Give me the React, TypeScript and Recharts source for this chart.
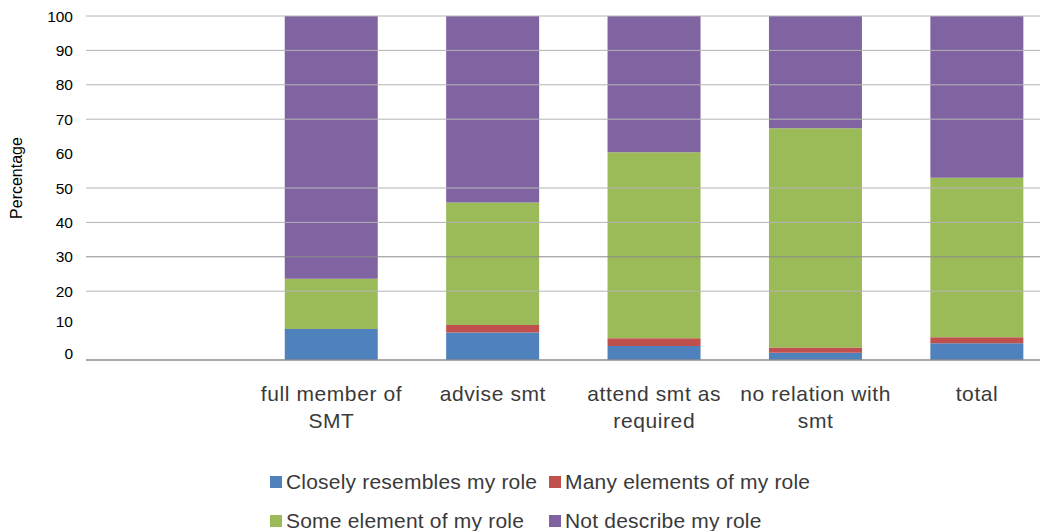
import React from 'react';
import { BarChart, Bar, XAxis, YAxis, ReferenceLine, Label } from 'recharts';

const categories = ['full member of SMT', 'advise smt', 'attend smt as required', 'no relation with smt', 'total'];
const closely = [9, 8, 4.1, 2.1, 4.9];
const many = [0, 2.2, 2.2, 1.5, 1.7];
const some = [14.6, 35.6, 54.1, 63.8, 46.4];
const notDescribe = [76.4, 54.2, 39.6, 32.6, 47];
const yTicks = [0, 10, 20, 30, 40, 50, 60, 70, 80, 90, 100];
const gridValues = [20, 30, 40, 50, 70, 80, 90, 100];

const series = [
  { key: 'closely', name: 'Closely resembles my role', color: '#4F81BD', values: closely },
  { key: 'many', name: 'Many elements of my role', color: '#C0504D', values: many },
  { key: 'some', name: 'Some element of my role', color: '#9BBB59', values: some },
  { key: 'notDescribe', name: 'Not describe my role', color: '#8064A2', values: notDescribe },
];

const data = categories.map((c, i) => {
  const row: Record<string, any> = { category: c };
  series.forEach((s) => { row[s.key] = s.values[i]; });
  return row;
});

const FONT = '"Liberation Sans", Arial, sans-serif';

function wrap(label: string, maxChars: number): string[] {
  const words = label.split(' ');
  const lines: string[] = [];
  let cur = '';
  words.forEach((w) => {
    const next = cur ? cur + ' ' + w : w;
    if (next.length > maxChars && cur) {
      lines.push(cur);
      cur = w;
    } else {
      cur = next;
    }
  });
  if (cur) lines.push(cur);
  return lines;
}

const XTick = (props: any) => {
  const { x, y, payload } = props;
  const lines = wrap(String(payload.value), 16);
  return (
    <g>
      {lines.map((l, i) => (
        <text key={i} x={x} y={y + 41 + i * 27} textAnchor="middle" fontFamily={FONT} fontSize={21} letterSpacing={0.6} fill="#3a3a3a">
          {l}
        </text>
      ))}
    </g>
  );
};

const YTick = (props: any) => {
  const { x, y, payload } = props;
  const v = Number(payload.value);
  const shift = v === 0 ? -7 : v === 10 ? -4 : 0;
  return (
    <text x={x} y={y + shift} dy="0.355em" textAnchor="end" fontFamily={FONT} fontSize={15.5} fill="#000">
      {payload.value}
    </text>
  );
};

export default function App() {
  return (
    <div style={{ position: 'absolute', left: 0, top: 0, width: 1047, height: 531, background: '#fff' }}>
      <BarChart width={1047} height={531} data={data} margin={{ top: 16, right: 7, left: 0, bottom: 0 }}>
        {gridValues.map((v) => (
          <ReferenceLine key={v} y={v} stroke={v === 30 ? '#8a8a8a' : '#b4b4b4'} strokeWidth={1} />
        ))}
        <XAxis
          dataKey="category"
          height={171}
          padding={{ left: 164.75, right: -17.75 }}
          axisLine={{ stroke: '#8c8c8c', strokeWidth: 1.5 }}
          tickLine={false}
          tickSize={0}
          tickMargin={0}
          tick={<XTick />}
          interval={0}
        />
        <YAxis
          width={86}
          domain={[0, 100]}
          ticks={yTicks}
          axisLine={false}
          tickLine={false}
          tickSize={0}
          tickMargin={13}
          tick={<YTick />}
          interval={0}
        >
          <Label
            content={() => (
              <text x={18} y={178} transform="rotate(-90 18 178)" textAnchor="middle" dominantBaseline="middle" fontFamily={FONT} fontSize={16} fill="#000">
                Percentage
              </text>
            )}
          />
        </YAxis>
        {series.map((s) => (
          <Bar key={s.key} dataKey={s.key} name={s.name} stackId="a" fill={s.color} barSize={93} isAnimationActive={false} />
        ))}
      </BarChart>
      <div style={{ position: 'absolute', left: 270, top: 470, width: 600 }}>
        {series.map((s, i) => (
          <div
            key={s.key}
            style={{
              position: 'absolute',
              left: (i % 2) * 279,
              top: Math.floor(i / 2) * 39,
              display: 'flex',
              alignItems: 'center',
              whiteSpace: 'nowrap',
              fontFamily: FONT,
              fontSize: 21,
              letterSpacing: 0.2,
              color: '#3a3a3a',
              height: 24,
            }}
          >
            <span style={{ display: 'inline-block', width: 12, height: 12, background: s.color, marginRight: 4 }} />
            <span>{s.name}</span>
          </div>
        ))}
      </div>
    </div>
  );
}
